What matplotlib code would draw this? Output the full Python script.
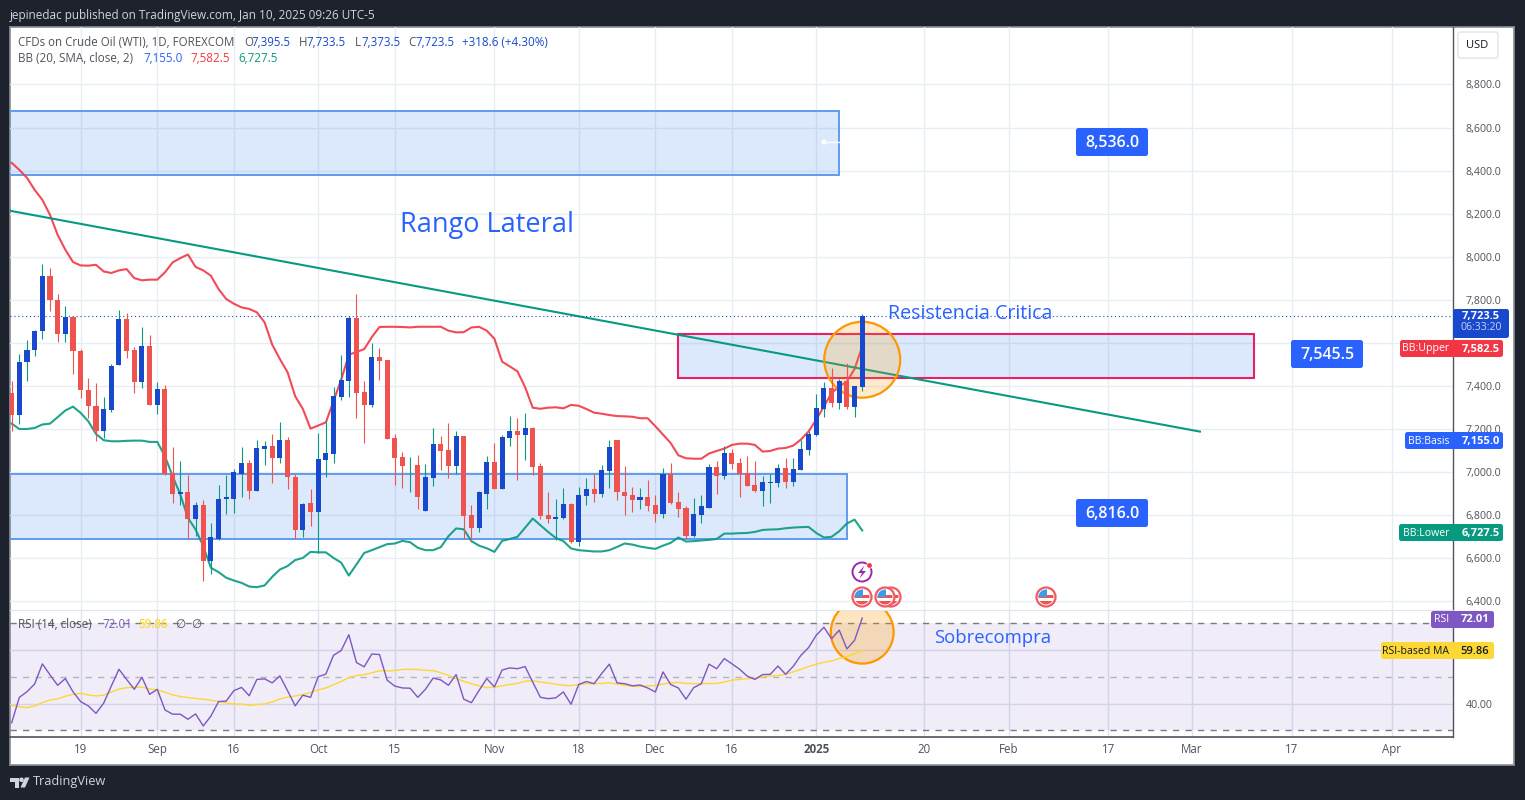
import matplotlib
matplotlib.use('Agg')
import matplotlib.pyplot as plt
from matplotlib.patches import Rectangle, Ellipse, Circle, FancyBboxPatch, Polygon
import numpy as np

opens = [7367, 7263, 7509, 7565, 7653, 7911, 7800, 7639, 7721, 7563, 7382, 7308, 7189, 7289, 7498, 7712,
         7568, 7419, 7586, 7312, 7387, 6995, 6895, 6904, 6779, 6848, 6588, 6690, 6876, 6876, 6992, 7039,
         6913, 7108, 7122, 7066, 7150, 6978, 6732, 6857, 6815, 7057, 7085, 7349, 7424, 7716, 7372, 7312,
         7535, 7521, 7159, 7071, 7030, 7034, 6820, 6973, 7131, 7103, 7029, 7168, 6801, 6741, 6899, 7047,
         6922, 7159, 7191, 7173, 7205, 7029, 6801, 6783, 6787, 6852, 6676, 6890, 6922, 6899, 7006, 7150,
         6908, 6894, 6871, 6885, 6848, 6806, 6992, 6862, 6834, 6704, 6801, 6834, 7024, 6982, 7089, 7043,
         6996, 6941, 6913, 6950, 6950, 7020, 6955, 7010, 7103, 7173, 7293, 7391, 7321, 7423, 7303, 7395.5]
highs = [7424, 7549, 7614, 7661, 7967, 7947, 7828, 7772, 7721, 7572, 7438, 7415, 7350, 7503, 7753, 7740,
         7582, 7675, 7637, 7419, 7405, 7117, 7052, 6983, 6862, 6871, 6760, 6941, 6983, 7015, 7117, 7057,
         7150, 7141, 7178, 7233, 7164, 6992, 6857, 6922, 7182, 7242, 7396, 7544, 7725, 7827, 7424, 7600,
         7577, 7521, 7177, 7094, 7071, 7080, 7038, 7205, 7168, 7229, 7191, 7168, 6848, 6913, 7075, 7136,
         7173, 7261, 7252, 7275, 7210, 7043, 6904, 6876, 6927, 6857, 6931, 6973, 6992, 7033, 7150, 7150,
         7029, 6931, 6927, 6964, 6894, 7020, 7043, 6908, 6839, 6880, 6894, 7038, 7052, 7122, 7108, 7066,
         7075, 7052, 6982, 6992, 7038, 7066, 7066, 7150, 7191, 7363, 7419, 7484, 7433, 7507, 7400, 7733.5]
lows = [7192, 7224, 7421, 7540, 7619, 7749, 7602, 7605, 7456, 7345, 7252, 7145, 7155, 7280, 7498, 7531,
        7368, 7391, 7312, 7271, 6987, 6857, 6848, 6686, 6700, 6491, 6523, 6681, 6802, 6811, 6885, 6876,
        6913, 7034, 6946, 7039, 6918, 6686, 6695, 6750, 6623, 6978, 7043, 7335, 7349, 7252, 7136, 7303,
        7428, 7154, 6941, 6927, 6904, 6825, 6820, 6936, 7010, 6973, 6992, 6690, 6676, 6722, 6825, 6922,
        6922, 7122, 6964, 7057, 6987, 6783, 6764, 6685, 6783, 6671, 6654, 6848, 6862, 6885, 6927, 6871,
        6801, 6815, 6825, 6820, 6769, 6787, 6852, 6792, 6690, 6699, 6760, 6834, 6899, 6968, 7015, 6885,
        6936, 6908, 6843, 6857, 6931, 6927, 6936, 7010, 7080, 7168, 7256, 7303, 7293, 7293, 7256, 7373.5]
closes = [7263, 7512, 7568, 7656, 7911, 7797, 7639, 7721, 7560, 7379, 7305, 7189, 7294, 7493, 7712, 7563,
          7419, 7586, 7312, 7387, 6992, 6895, 6904, 6779, 6848, 6588, 6695, 6876, 6881, 6997, 7039, 6913,
          7113, 7122, 7066, 7150, 6974, 6732, 6852, 6815, 7061, 7089, 7354, 7428, 7716, 7368, 7312, 7535,
          7516, 7154, 7066, 7029, 7034, 6885, 6978, 7131, 7099, 7029, 7168, 6797, 6741, 6904, 7047, 6922,
          7164, 7191, 7173, 7205, 7024, 6797, 6783, 6792, 6852, 6676, 6894, 6922, 6899, 7010, 7117, 6904,
          6890, 6871, 6885, 6843, 6806, 6992, 6857, 6829, 6704, 6806, 6839, 7024, 6982, 7089, 7038, 6992,
          6936, 6913, 6955, 6955, 7020, 6955, 7015, 7108, 7177, 7298, 7391, 7321, 7423, 7303, 7400, 7723.5]

bb_upper = [8436, 8403, 8366, 8310, 8264, 8194, 8101, 8032, 7975, 7959, 7958, 7962, 7931, 7924, 7936, 7942,
            7900, 7890, 7893, 7893, 7927, 7973, 7993, 8010, 7952, 7936, 7911, 7849, 7803, 7781, 7764, 7757,
            7741, 7695, 7591, 7524, 7463, 7351, 7292, 7201, 7215, 7230, 7328, 7428, 7544, 7557, 7570, 7626,
            7673, 7674, 7674, 7673, 7671, 7674, 7674, 7674, 7674, 7656, 7648, 7649, 7671, 7674, 7656, 7618,
            7512, 7490, 7467, 7394, 7298, 7293, 7298, 7300, 7295, 7311, 7307, 7292, 7275, 7270, 7264, 7259,
            7258, 7256, 7249, 7249, 7212, 7173, 7134, 7077, 7063, 7061, 7061, 7085, 7097, 7108, 7125, 7131,
            7131, 7125, 7094, 7097, 7108, 7111, 7122, 7150, 7188, 7242, 7304, 7366, 7397, 7420, 7478, 7582.5]
bb_lower = [7224, 7199, 7199, 7204, 7220, 7224, 7254, 7285, 7303, 7274, 7235, 7176, 7147, 7142, 7142, 7144,
            7145, 7145, 7139, 7139, 7073, 6980, 6895, 6786, 6732, 6655, 6554, 6534, 6508, 6495, 6484, 6467,
            6464, 6472, 6512, 6546, 6562, 6590, 6600, 6628, 6626, 6626, 6600, 6578, 6518, 6570, 6623, 6636,
            6650, 6664, 6667, 6679, 6673, 6647, 6636, 6636, 6650, 6701, 6737, 6733, 6678, 6657, 6645, 6628,
            6679, 6688, 6698, 6740, 6783, 6752, 6721, 6693, 6678, 6644, 6636, 6633, 6630, 6630, 6636, 6651,
            6667, 6662, 6653, 6647, 6642, 6657, 6670, 6695, 6676, 6678, 6681, 6684, 6688, 6713, 6713, 6715,
            6716, 6721, 6730, 6732, 6733, 6738, 6741, 6743, 6744, 6716, 6695, 6698, 6724, 6760, 6778, 6727.5]

rsi = [32.9, 42.4, 44.5, 47.4, 54.9, 50.8, 46.9, 49.4, 44.5, 40.8, 39.2, 36.4, 40.2, 46.6, 52.9, 49.1,
       45.4, 49.9, 43.5, 45.4, 37.7, 36.1, 36.1, 34.2, 36.2, 31.7, 35.4, 40.8, 41.0, 44.9, 46.1, 43.0,
       49.1, 49.3, 47.8, 50.4, 44.9, 39.2, 43.2, 42.4, 50.1, 51.1, 58.1, 59.9, 65.8, 55.4, 53.8, 58.6,
       58.4, 48.8, 46.6, 45.9, 45.8, 42.4, 45.4, 49.6, 48.9, 46.9, 50.9, 41.7, 40.4, 45.0, 49.4, 46.3,
       52.6, 53.4, 53.1, 53.9, 48.1, 42.4, 41.9, 42.2, 44.4, 39.8, 47.2, 48.3, 47.5, 51.3, 54.8, 47.8,
       47.5, 46.7, 47.0, 45.9, 44.4, 51.9, 47.2, 45.9, 41.7, 46.0, 47.5, 54.8, 53.1, 56.9, 54.9, 52.9,
       50.3, 49.1, 50.9, 51.0, 54.1, 51.0, 54.0, 58.1, 61.0, 65.6, 68.6, 64.3, 67.5, 60.5, 63.7, 72.01]
rsi_ma = [39.4, 38.9, 38.5, 39.2, 40.4, 41.4, 41.8, 42.8, 43.5, 43.9, 43.3, 42.9, 43.2, 44.4, 45.5, 46.0,
          46.2, 46.2, 45.5, 45.2, 44.3, 43.3, 42.7, 42.3, 42.0, 41.7, 41.3, 40.9, 40.3, 39.9, 39.9, 39.4,
          39.7, 39.9, 40.7, 41.8, 42.5, 42.9, 43.4, 44.2, 45.2, 45.9, 47.1, 48.3, 49.8, 50.5, 50.9, 51.6,
          52.3, 52.3, 52.4, 52.8, 52.9, 52.8, 52.5, 52.4, 51.6, 50.6, 49.4, 48.4, 47.5, 46.7, 46.0, 46.2,
          46.7, 47.2, 47.6, 48.4, 48.6, 48.1, 47.8, 47.3, 46.9, 46.8, 47.2, 47.5, 47.5, 47.6, 47.8, 47.4,
          46.9, 46.5, 46.5, 46.7, 46.8, 47.4, 47.8, 48.0, 47.6, 47.5, 47.5, 47.6, 47.6, 48.1, 48.8, 49.1,
          49.4, 49.5, 50.0, 50.4, 50.5, 51.0, 51.9, 52.9, 53.9, 54.8, 55.5, 56.0, 56.9, 57.7, 58.7, 59.86]

time_ticks = [9, 19, 29, 40, 50, 63, 74, 84, 94, 105, 119.1, 130.1, 143.1, 154.0, 167.1, 180.1]
time_labels = ['19', 'Sep', '16', 'Oct', '15', 'Nov', '18', 'Dec', '16', '2025', '20', 'Feb', '17', 'Mar', '17', 'Apr']
price_ticks = [6400, 6600, 6800, 7000, 7200, 7400, 7600, 7800, 8000, 8200, 8400, 8600, 8800]

FONT = ['Open Sans', 'DejaVu Sans']
plt.rcParams['font.family'] = FONT

BG = '#1e222d'
UP = '#1848cc'
DOWN = '#ef5350'
WICK_UP = '#089981'
BLUE = '#2962ff'
RED = '#f23645'
GREEN = '#089981'
PURPLE = '#7e57c2'
YELLOW = '#fdd835'
GRID = '#e6edf3'
GREY = '#4f525c'
BOX_FILL = (0.16, 0.47, 0.93, 0.16)
BOX_EDGE = '#5f9bf0'

W, H = 1525, 800
fig = plt.figure(figsize=(W / 100, H / 100), dpi=100, facecolor=BG)


def axes_px(x0, y0, x1, y1):
    return fig.add_axes([x0 / W, 1 - y1 / H, (x1 - x0) / W, (y1 - y0) / H])


# white panel behind both panes
panel = axes_px(10, 27, 1514, 765)
panel.set_xticks([])
panel.set_yticks([])
panel.set_facecolor('white')
for s in panel.spines.values():
    s.set_color('#8a8d96')
    s.set_linewidth(1.2)

ax = axes_px(10, 27, 1453, 610)
ax_rsi = axes_px(10, 611, 1453, 737)
x = np.arange(len(closes))

for a in (ax, ax_rsi):
    a.set_xlim(-0.22, 188.1)
    a.set_xticks(time_ticks)
    a.patch.set_alpha(0)
    a.yaxis.tick_right()
    a.tick_params(axis='both', length=0, labelsize=8.3, labelcolor=GREY)
    a.tick_params(axis='y', labelsize=7.7, pad=9)
    a.set_axisbelow(True)
    a.spines['left'].set_visible(False)
    a.spines['top'].set_visible(False)
    a.spines['right'].set_color('#50535e')
    a.spines['right'].set_linewidth(1)

# main pane, the 7,600 label sits hidden under the BB:Upper tag
ax.set_ylim(6358, 9067)
ax.set_yticks(price_ticks)
ax.set_yticklabels(['' if p == 7600 else '{:,.1f}'.format(p) for p in price_ticks])
ax.tick_params(axis='x', labelbottom=False)
ax.grid(True, color=GRID, lw=1)
ax.spines['bottom'].set_color('#e0e3eb')

ax.add_patch(Rectangle((-1, 8380), 108.96, 297, fc=BOX_FILL, ec=BOX_EDGE, lw=1.4, zorder=1))
ax.add_patch(Rectangle((-1, 6690), 110, 302, fc=BOX_FILL, ec=BOX_EDGE, lw=1.4, zorder=1))
ax.add_patch(Rectangle((86.95, 7437), 75.15, 205, fc=BOX_FILL, ec='#e91e63', lw=1.5, zorder=1))

ax.plot(x, bb_upper, color=RED, lw=1.5, alpha=0.9, zorder=2)
ax.plot(x, bb_lower, color=GREEN, lw=1.5, alpha=0.9, zorder=2)
ax.plot([-0.2, 155.07], [8213, 7187], color=GREEN, lw=1.5, zorder=2)
ax.axhline(closes[-1], color=UP, lw=0.8, ls=(0, (1, 2.5)), zorder=2)

ax.add_patch(Ellipse((111, 7521), 9.92, 353, fc=(1, 0.6, 0, 0.2), ec='#ff9800', lw=1.6, zorder=3))

is_up = [c >= o for o, c in zip(opens, closes)]
ax.vlines(x, lows, highs, colors=[WICK_UP if u else DOWN for u in is_up], lw=0.8, zorder=4)
ax.bar(x, [abs(c - o) for o, c in zip(opens, closes)], bottom=[min(o, c) for o, c in zip(opens, closes)],
       width=0.66, color=[UP if u else DOWN for u in is_up], lw=0, zorder=5)

# rsi pane
ax_rsi.set_ylim(27.57, 74.67)
ax_rsi.set_yticks([40, 60])
ax_rsi.set_yticklabels(['40.00', ''])
ax_rsi.tick_params(axis='x', pad=4)
ax_rsi.set_xticklabels(time_labels)
ax_rsi.get_xticklabels()[9].set_fontweight('bold')
ax_rsi.grid(True, color='#dde3ef', lw=1)
ax_rsi.spines['bottom'].set_color('#50535e')
ax_rsi.spines['bottom'].set_linewidth(1.2)

ax_rsi.axhspan(30, 70, color=PURPLE, alpha=0.11, lw=0, zorder=1)
ax_rsi.axhline(70, color='#787b86', lw=1, ls=(0, (4.5, 4.5)), zorder=2)
ax_rsi.axhline(50, color='#b2b5be', lw=1, ls=(0, (4.5, 4.5)), zorder=2)
ax_rsi.axhline(30, color='#787b86', lw=1, ls=(0, (4.5, 4.5)), zorder=2)
ax_rsi.add_patch(Ellipse((111, 66.8), 8.2, 23.6, fc=(1, 0.6, 0, 0.25), ec='#ff9800', lw=1.6, zorder=3))
ax_rsi.plot(x, rsi_ma, color=YELLOW, lw=1, zorder=4)
ax_rsi.plot(x, rsi, color=PURPLE, lw=1, zorder=5)

# overlay in pixel units for labels, tags and icons
ov = fig.add_axes([0, 0, 1, 1], zorder=10)
ov.set_xlim(0, W)
ov.set_ylim(H, 0)
ov.axis('off')


def txt(px, py, s, color=GREY, size=8.35, ha='left', **kw):
    ov.text(px, py, s, color=color, fontsize=size, ha=ha, va='center', family=FONT, **kw)


def tag(x0, y0, x1, y1, color, ec='none', lw=0):
    ov.add_patch(FancyBboxPatch((x0, y0), x1 - x0, y1 - y0, boxstyle='round,pad=0,rounding_size=2.5',
                                fc=color, ec=ec, lw=lw))


def flag(px, py):
    ring = Circle((px, py), 9.5, fc='white', ec='#ef5a63', lw=1.6)
    ov.add_patch(ring)
    inner = Circle((px, py), 7.5, transform=ov.transData)
    for rx, ry, rw, rh, col in [(-8, -2, 16, 3, '#ef5350'), (-8, 4, 16, 4, '#ef5350'), (-8, -8, 9, 8, '#3d9be9')]:
        r = Rectangle((px + rx, py + ry), rw, rh, fc=col, lw=0)
        ov.add_patch(r)
        r.set_clip_path(inner)


txt(10, 15, 'jepinedac published on TradingView.com, Jan 10, 2025 09:26 UTC-5', color='#d1d4dc', size=8.5)

txt(18, 42, 'CFDs on Crude Oil (WTI), 1D, FOREXCOM', size=8.3)
for px, head, val in [(244, 'O', '7,395.5'), (299, 'H', '7,733.5'), (354.5, 'L', '7,373.5'), (408, 'C', '7,723.5')]:
    txt(px, 42, head, size=8.3)
    txt(px + 7, 42, val, color=UP, size=8.3)
txt(462, 42, '+318.6 (+4.30%)', color=UP)
txt(18, 59, 'BB (20, SMA, close, 2)')
txt(143, 59, '7,155.0', color=BLUE)
txt(190, 59, '7,582.5', color=RED)
txt(238, 59, '6,727.5', color=GREEN)

txt(18, 625, 'RSI (14, close)')
txt(102, 625, '72.01', color=PURPLE)
txt(138.5, 625, '59.86', color=YELLOW, fontweight='semibold')
txt(175, 625, '∅')
txt(191, 625, '∅')

txt(400, 225, 'Rango Lateral', color=BLUE, size=19.5)
txt(888, 314, 'Resistencia Critica', color=BLUE, size=14.1)
txt(934, 638, 'Sobrecompra', color=BLUE, size=13.3)

for x0, y0, s in [(1076, 128, '8,536.0'), (1291, 340, '7,545.5'), (1076, 499, '6,816.0')]:
    tag(x0, y0, x0 + 72, y0 + 28, BLUE)
    txt(x0 + 36, y0 + 15, s, color='white', size=11.5, ha='center', fontweight='semibold')

# handle on the upper box
ov.plot([824, 839], [142, 142], color='white', lw=1)
ov.add_patch(Circle((824, 142), 2.6, fc='white', ec='none'))

tag(1458, 32, 1498, 58, 'white', ec='#e0e3eb', lw=1)
txt(1477, 45, 'USD', color='#131722', size=8, ha='center')

tag(1453, 309, 1509, 338, UP)
txt(1481, 316, '7,723.5', color='white', size=8, ha='center', fontweight='bold')
txt(1481, 328, '06:33:20', color='#c9d4f5', size=7.6, ha='center')

for x0, y0, name, val, col in [(1400, 340, 'BB:Upper', '7,582.5', RED), (1405, 432, 'BB:Basis', '7,155.0', BLUE),
                               (1399, 524, 'BB:Lower', '6,727.5', GREEN)]:
    tag(x0, y0, 1503, y0 + 17, col)
    txt(1449.5, y0 + 9, name, color='white', size=7.6, ha='right')
    txt(1481, y0 + 9.5, val, color='white', size=8, ha='center', fontweight='bold')

tag(1431, 611, 1494, 628, PURPLE)
txt(1449.5, 620, 'RSI', color='white', size=7.6, ha='right')
txt(1475, 620, '72.01', color='white', size=8, ha='center', fontweight='bold')
tag(1381, 642, 1494, 659, YELLOW)
txt(1449.5, 651, 'RSI-based MA', color='#131722', size=7.6, ha='right')
txt(1475, 651, '59.86', color='#131722', size=8, ha='center', fontweight='semibold')

for px in [891, 885, 862, 1046]:
    flag(px, 597)

ov.add_patch(Circle((862, 572), 9.5, fc='white', ec='#9c27b0', lw=1.4))
ov.add_patch(Polygon([(864.5, 565.5), (858, 573), (862, 573), (859.5, 578.5), (866, 571), (862, 571)], fc='#9c27b0', lw=0))
ov.add_patch(Circle((869.5, 565.5), 3.2, fc='white', lw=0))
ov.add_patch(Circle((869.5, 565.5), 2.4, fc='#f23645', lw=0))

# footer logo
ov.add_patch(Polygon([(10, 777.5), (19, 777.5), (19, 787.5), (14.5, 787.5), (14.5, 782), (10, 782)], fc='#d1d4dc', lw=0))
ov.add_patch(Circle((21.5, 779.8), 2.3, fc='#d1d4dc', lw=0))
ov.add_patch(Polygon([(25, 777.5), (29.5, 777.5), (25, 787.5), (20.5, 787.5)], fc='#d1d4dc', lw=0))
txt(33, 782, 'TradingView', color='#d1d4dc', size=9.2)

fig.savefig('out.png', dpi=100, facecolor=BG)
